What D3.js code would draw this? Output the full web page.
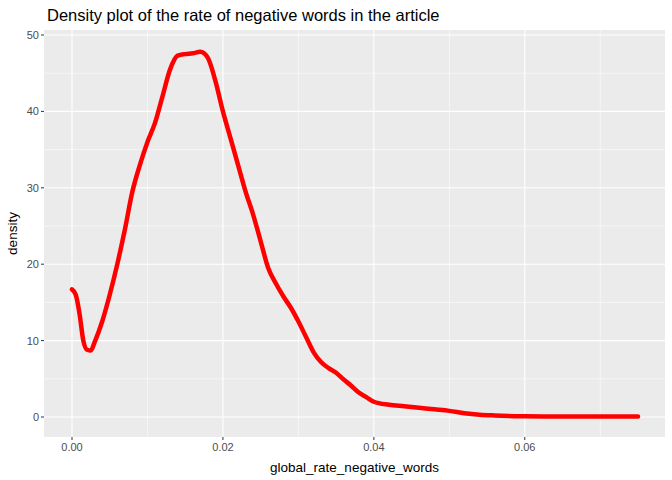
<!DOCTYPE html><html><head><meta charset="utf-8"><script src="https://cdn.jsdelivr.net/npm/d3@7"></script>
<style>body{margin:0;background:#fff}text{font-family:"Liberation Sans",Arial,sans-serif}</style></head><body><svg id="c" width="672" height="480"></svg>
<script>
const xs=[0,0.0005,0.001,0.0015,0.002,0.0025,0.003,0.004,0.005,0.006,0.007,0.008,0.009,0.010,0.011,0.012,0.013,0.014,0.015,0.016,0.017,0.018,0.019,0.020,0.021,0.022,0.023,0.024,0.025,0.026,0.027,0.028,0.029,0.030,0.031,0.032,0.033,0.034,0.035,0.036,0.037,0.038,0.039,0.040,0.042,0.044,0.046,0.048,0.050,0.052,0.054,0.056,0.060,0.065,0.070,0.075];
const ys=[16.7,16,13.5,10,8.8,8.7,9.8,12.5,16,20,24.5,29.5,33,36,38.5,42,45.5,47.3,47.5,47.6,47.8,47,44,40,36.5,33,29.5,26.5,23,19.5,17.5,15.8,14.3,12.5,10.5,8.5,7.2,6.4,5.8,4.9,4.1,3.2,2.6,2.0,1.6,1.4,1.2,1.0,0.8,0.5,0.3,0.2,0.1,0.05,0.05,0.05];
const xTicks=[0,0.02,0.04,0.06], yTicks=[0,10,20,30,40,50];
const svg=d3.select("#c");
const L=44,R=665,T=30,B=437;
const x=d3.scaleLinear().domain([0,0.075]).range([72,638]);
const y=d3.scaleLinear().domain([0,50]).range([417,35]);
svg.append("rect").attr("x",L).attr("y",T).attr("width",R-L).attr("height",B-T).attr("fill","#EBEBEB");
const minorX=[0.01,0.03,0.05,0.07], minorY=[5,15,25,35,45];
minorX.forEach(v=>svg.append("line").attr("x1",x(v)).attr("x2",x(v)).attr("y1",T).attr("y2",B).attr("stroke","#fff").attr("stroke-width",0.55));
minorY.forEach(v=>svg.append("line").attr("y1",y(v)).attr("y2",y(v)).attr("x1",L).attr("x2",R).attr("stroke","#fff").attr("stroke-width",0.55));
xTicks.forEach(v=>{svg.append("line").attr("x1",x(v)).attr("x2",x(v)).attr("y1",T).attr("y2",B).attr("stroke","#fff").attr("stroke-width",1.1);
 svg.append("line").attr("x1",x(v)).attr("x2",x(v)).attr("y1",B).attr("y2",B+3).attr("stroke","#333");
 svg.append("text").attr("x",x(v)).attr("y",B+14).attr("text-anchor","middle").attr("font-size",11).attr("fill","#4D4D4D").text(v.toFixed(2));});
yTicks.forEach(v=>{svg.append("line").attr("y1",y(v)).attr("y2",y(v)).attr("x1",L).attr("x2",R).attr("stroke","#fff").attr("stroke-width",1.1);
 svg.append("line").attr("y1",y(v)).attr("y2",y(v)).attr("x1",L-3).attr("x2",L).attr("stroke","#333");
 svg.append("text").attr("x",L-5).attr("y",y(v)+4).attr("text-anchor","end").attr("font-size",11).attr("fill","#4D4D4D").text(v);});
const line=d3.line().x((d,i)=>x(xs[i])).y(d=>y(d)).curve(d3.curveMonotoneX);
svg.append("path").attr("d",line(ys)).attr("fill","none").attr("stroke","#FF0000").attr("stroke-width",4.5).attr("stroke-linecap","round").attr("stroke-linejoin","round");
svg.append("text").attr("x",(L+R)/2).attr("y",472).attr("text-anchor","middle").attr("font-size",13.5).text("global_rate_negative_words");
svg.append("text").attr("transform",`translate(17,${(T+B)/2}) rotate(-90)`).attr("text-anchor","middle").attr("font-size",13.5).text("density");
svg.append("text").attr("x",L+3).attr("y",21).attr("font-size",16.5).text("Density plot  of the rate of negative words in the article");
</script></body></html>
